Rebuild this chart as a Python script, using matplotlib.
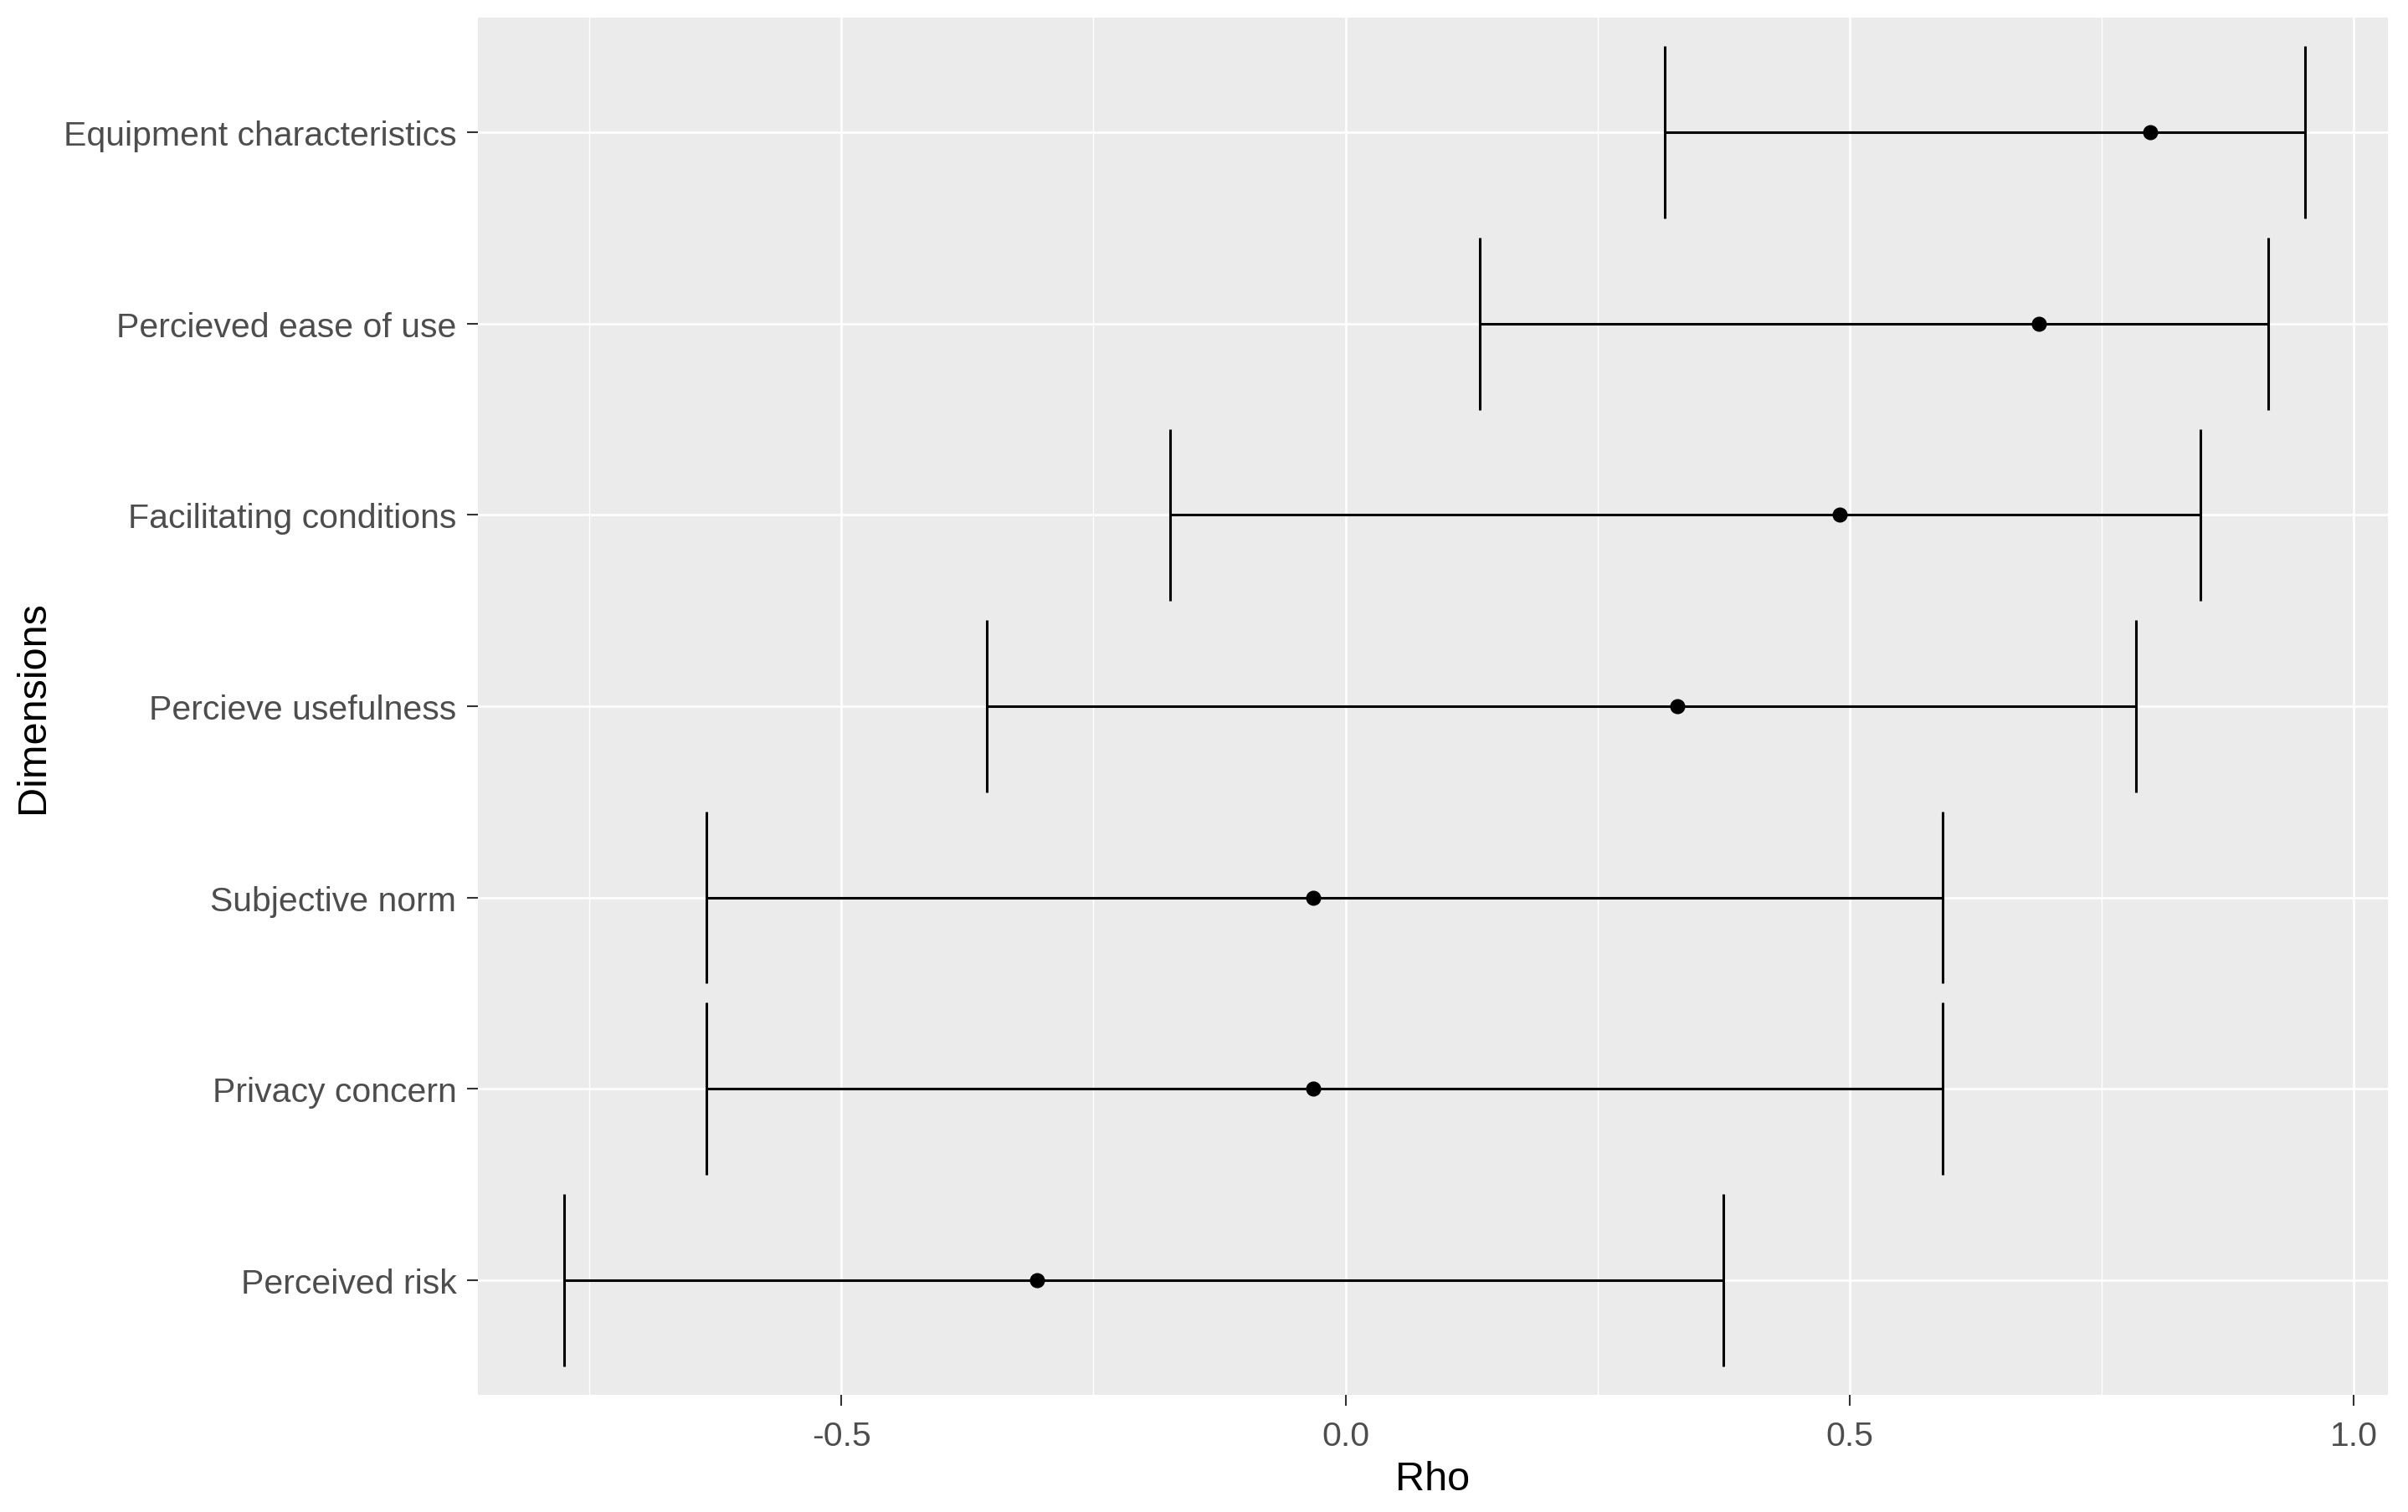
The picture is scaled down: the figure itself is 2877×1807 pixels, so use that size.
import numpy as np
import matplotlib
matplotlib.use("Agg")
import matplotlib.pyplot as plt

# Dimensões, de baixo para cima (ordem do eixo y)
dimensions = [
    "Perceived risk",
    "Privacy concern",
    "Subjective norm",
    "Percieve usefulness",
    "Facilitating conditions",
    "Percieved ease of use",
    "Equipment characteristics",
]
rho = [-0.306, -0.032, -0.032, 0.329, 0.490, 0.688, 0.798]
ci_low = [-0.775, -0.634, -0.634, -0.356, -0.174, 0.133, 0.317]
ci_high = [0.375, 0.592, 0.592, 0.784, 0.848, 0.915, 0.952]

plt.rcParams["font.family"] = ["Liberation Sans", "DejaVu Sans"]
plt.rcParams["axes.unicode_minus"] = False

fig = plt.figure(figsize=(28.77, 18.08), dpi=100)
ax = fig.add_axes([571 / 2877, 1 - 1668 / 1808, (2853 - 571) / 2877, (1668 - 22) / 1808])
ax.set_facecolor("#EBEBEB")

y = np.arange(1, len(dimensions) + 1)

# Grade estilo ggplot
ax.set_xticks([-0.5, 0.0, 0.5, 1.0])
ax.set_xticks([-0.75, -0.25, 0.25, 0.75], minor=True)
ax.set_yticks(y)
ax.set_yticklabels(dimensions)
ax.grid(which="major", color="white", linewidth=1.9)
ax.grid(which="minor", axis="x", color="white", linewidth=0.95)
ax.set_axisbelow(True)
for s in ax.spines.values():
    s.set_visible(False)

# Barras de erro e pontos
ax.hlines(y, ci_low, ci_high, color="black", linewidth=2.2, zorder=3)
ax.vlines(ci_low, y - 0.45, y + 0.45, color="black", linewidth=2.2, zorder=3)
ax.vlines(ci_high, y - 0.45, y + 0.45, color="black", linewidth=2.2, zorder=3)
ax.plot(rho, y, "o", color="black", markersize=12, zorder=4)

ax.set_xlim(-0.8605, 1.034)
ax.set_ylim(0.4, 7.6)

ax.tick_params(axis="both", which="major", color="#333333", width=1.5,
               length=9.4, labelsize=29.5, labelcolor="#4D4D4D")
ax.tick_params(axis="y", pad=9)
ax.tick_params(axis="x", pad=12)
ax.tick_params(which="minor", length=0)

ax.set_xlabel("Rho", fontsize=35, color="black")
ax.xaxis.label.set_va("center")
ax.xaxis.set_label_coords(0.5, -0.0608)
ax.set_ylabel("Dimensions", fontsize=35, color="black")
ax.yaxis.label.set_va("center")
ax.yaxis.set_label_coords(-0.2327, 0.5)

fig.savefig("out.png", dpi=100)
